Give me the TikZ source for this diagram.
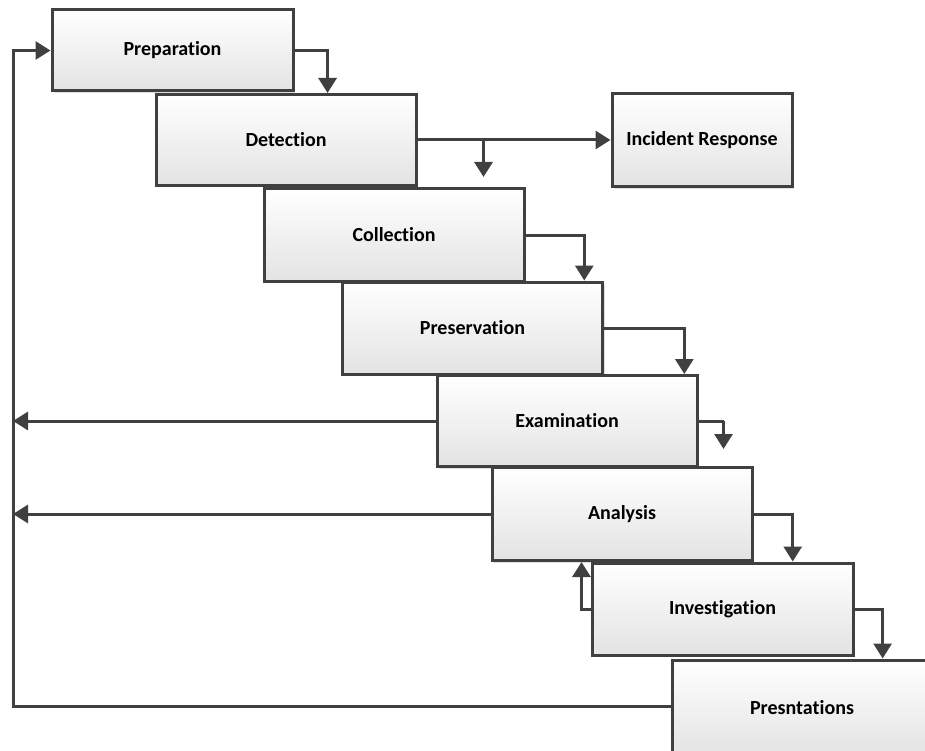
\documentclass[tikz,border=0pt]{standalone}
\usepackage{fontspec}
\setmainfont{Carlito}[RawFeature=-liga]
\usetikzlibrary{calc,arrows.meta,shadows}
\definecolor{ln}{HTML}{404040}
\begin{document}
\begin{tikzpicture}[x=1pt,y=-1pt,
  box/.style={draw=ln, line width=3pt, top color=white, bottom color=black!11,
     drop shadow={opacity=0.25, shadow xshift=2pt, shadow yshift=-2pt},
     font=\fontsize{20}{24}\selectfont\bfseries, inner sep=0pt},
  arr/.style={draw=ln, line width=3pt, -{Triangle[length=15pt,width=18pt]}},
  ln/.style={draw=ln, line width=3pt}]
\useasboundingbox (0,0) rectangle (925,751);
\begin{scope}
\clip (0,0) rectangle (925,751);
\node[box, minimum width=241pt, minimum height=81pt] (prep) at (172.5,50.5) {Preparation};
\node[box, minimum width=260pt, minimum height=91pt] (det) at (286,140) {Detection};
\node[box, minimum width=180pt, minimum height=93pt] (inc) at (702,140.5) {Incident Response};
\node[box, minimum width=260pt, minimum height=92pt] (col) at (394,235) {Collection};
\node[box, minimum width=260pt, minimum height=92pt] (pres) at (472.5,328) {Preservation};
\node[box, minimum width=260pt, minimum height=91pt] (exam) at (567,421) {Examination};
\node[box, minimum width=260pt, minimum height=93pt] (ana) at (622,514) {Analysis};
\node[box, minimum width=261pt, minimum height=92pt] (inv) at (722.5,609) {Investigation};
\node[box, minimum width=300pt, minimum height=96pt] (prs) at (822,708) {\makebox[300pt][l]{\makebox[260pt]{Presntations}}};
\end{scope}
\coordinate (prsw) at (672,706);
\coordinate (b1) at ($(det.east)+(66,0)$);
\coordinate (b1e) at ($(b1)+(0,37)$);
\coordinate (ex1) at ($(exam.east)+(25,0)$);
\coordinate (ex1e) at ($(ex1)+(0,28)$);
\coordinate (L) at (13,0);
% forward connectors
\draw[arr] (prep.east) -| ($(det.north west)!0.658!(det.north east)$);
\draw[arr] (det.east) -- (det.east -| inc.west);
\draw[arr] (b1) -- (b1e);
\draw[arr] (col.east) -| ($(pres.north west)!0.925!(pres.north east)$);
\draw[arr] (pres.east) -| ($(exam.north west)!0.946!(exam.north east)$);
\draw[ln] (exam.east) -- (ex1);
\draw[arr] (ex1) -- (ex1e);
\draw[arr] (ana.east) -| ($(inv.north west)!0.766!(inv.north east)$);
\draw[arr] (inv.east) -| ($(prs.north west)!0.7!(prs.north east)$);
\draw[arr] (inv.west) -| ($(ana.south west)!0.346!(ana.south east)$);
% feedback
\draw[arr] (prs.west |- prsw) -- (prsw -| L) -- (prep.west -| L) -- (prep.west);
\draw[arr] (exam.west) -- (exam.west -| L);
\draw[arr] (ana.west) -- (ana.west -| L);
\end{tikzpicture}
\end{document}
